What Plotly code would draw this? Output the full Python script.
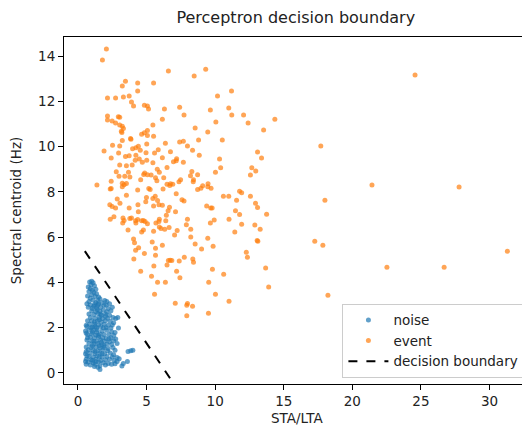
import plotly.graph_objects as go

# (STA/LTA, spectral centroid)
noise_pts = [
    (0.85, 4.02), (1.0, 4.05), (1.1, 3.98), (0.95, 3.9), (0.75, 3.8), (1.2, 3.85), (0.9, 3.72),
    (1.05, 3.65), (1.3, 3.7), (0.8, 3.6), (1.15, 3.55), (1.0, 3.45), (1.35, 3.5), (0.7, 3.4),
    (1.25, 3.38), (0.9, 3.3), (1.5, 3.35), (1.1, 3.22), (1.45, 3.2), (0.8, 3.15), (1.6, 3.28),
    (1.3, 3.1), (0.65, 3.05), (0.9, 3.0), (1.2, 3.02), (1.5, 3.05), (1.75, 3.1), (1.9, 2.98),
    (2.05, 3.0), (0.75, 2.9), (1.05, 2.85), (1.35, 2.88), (1.65, 2.9), (2.2, 2.85), (1.0, 2.75),
    (1.3, 2.7), (1.6, 2.72), (1.85, 2.78), (2.1, 2.7), (2.4, 2.75), (0.8, 2.6), (1.15, 2.58),
    (1.45, 2.62), (1.7, 2.55), (2.0, 2.6), (2.3, 2.55), (0.9, 2.45), (1.25, 2.42), (1.55, 2.45),
    (1.8, 2.4), (2.15, 2.42), (2.55, 2.45), (2.75, 2.4), (0.7, 2.3), (1.0, 2.3), (1.4, 2.28),
    (1.7, 2.25), (2.0, 2.3), (2.35, 2.28), (2.6, 2.22), (0.85, 2.15), (1.2, 2.15), (1.5, 2.12),
    (1.9, 2.15), (2.2, 2.1), (2.5, 2.12), (0.65, 2.05), (1.05, 2.02), (1.35, 2.0), (1.65, 2.05),
    (2.05, 2.0), (2.4, 1.98), (2.95, 1.98), (0.55, 1.85), (0.6, 1.75), (0.8, 1.9), (1.1, 1.88),
    (1.4, 1.9), (1.75, 1.85), (2.1, 1.88), (2.45, 1.82), (2.7, 1.78), (0.7, 1.7), (1.0, 1.72),
    (1.3, 1.68), (1.6, 1.72), (1.9, 1.7), (2.25, 1.7), (2.6, 1.65), (0.9, 1.58), (1.2, 1.55),
    (1.5, 1.58), (1.8, 1.55), (2.05, 1.52), (2.4, 1.55), (2.75, 1.5), (0.65, 1.45), (1.0, 1.42),
    (1.35, 1.4), (1.65, 1.45), (1.95, 1.4), (2.3, 1.38), (2.6, 1.42), (0.8, 1.3), (1.15, 1.28),
    (1.45, 1.3), (1.75, 1.25), (2.1, 1.28), (2.45, 1.25), (2.85, 1.3), (0.6, 1.15), (0.95, 1.12),
    (1.3, 1.15), (1.6, 1.1), (1.9, 1.12), (2.2, 1.08), (2.55, 1.12), (0.75, 1.02), (1.1, 1.0),
    (1.45, 0.98), (1.8, 1.02), (2.15, 0.98), (2.7, 1.0), (0.55, 0.85), (0.65, 0.75), (0.9, 0.88),
    (1.25, 0.85), (1.6, 0.88), (1.95, 0.85), (2.35, 0.88), (0.8, 0.72), (1.1, 0.7), (1.4, 0.75),
    (1.75, 0.7), (2.1, 0.72), (2.5, 0.7), (2.85, 0.68), (0.6, 0.6), (0.95, 0.58), (1.3, 0.6),
    (1.65, 0.55), (2.0, 0.58), (2.3, 0.6), (2.65, 0.55), (3.0, 0.62), (0.75, 0.48), (1.1, 0.45),
    (1.5, 0.48), (1.85, 0.45), (2.2, 0.42), (2.7, 0.4), (0.6, 0.38), (0.9, 0.35), (1.25, 0.38),
    (1.6, 0.32), (2.0, 0.35), (2.45, 0.38), (1.45, 0.25), (1.6, 0.15), (1.2, 0.28), (3.2, 0.3),
    (3.3, 0.42), (3.6, 0.5), (3.65, 0.95), (3.85, 0.98), (4.0, 1.0), (2.85, 0.5), (2.6, 0.8),
    (2.9, 2.45), (2.5, 2.9), (2.3, 3.05), (1.95, 3.2), (2.1, 3.15), (1.15, 2.95), (1.4, 2.8),
    (1.55, 2.35), (1.25, 2.05), (1.05, 1.8), (1.5, 1.65), (1.15, 1.4), (1.55, 1.2), (1.25, 0.95),
    (1.55, 0.7), (1.3, 0.5), (1.05, 1.2), (1.85, 2.0), (1.7, 1.35), (1.35, 1.8), (1.65, 2.6),
    (1.45, 3.0), (1.2, 2.25), (0.95, 2.0), (1.75, 0.85), (2.25, 1.5), (2.0, 2.5), (1.9, 1.2),
    (1.05, 0.55), (0.7, 1.55), (0.6, 0.95), (0.55, 0.5), (0.6, 2.1),
]

event_pts = [
    (2.07, 14.31), (1.78, 13.82), (6.59, 13.34), (9.31, 13.42), (8.47, 13.12), (24.57, 13.16),
    (3.46, 12.89), (3.23, 12.67), (4.35, 12.81), (5.51, 12.81), (4.35, 12.45), (11.19, 12.45),
    (2.15, 12.14), (2.74, 12.14), (3.31, 12.19), (3.73, 12.23), (10.17, 12.23), (3.9, 11.97),
    (4.05, 11.79), (4.84, 11.83), (5.06, 11.79), (5.14, 11.66), (7.41, 11.74), (6.3, 11.66),
    (9.65, 11.61), (10.99, 11.7), (11.21, 11.39), (7.73, 11.39), (12.07, 11.39), (2.15, 11.35),
    (2.94, 11.32), (3.04, 11.29), (2.15, 11.17), (6.15, 11.21), (2.49, 11.13), (2.74, 11.04),
    (3.04, 10.95), (3.23, 10.9), (3.31, 10.8), (5.46, 10.95), (10.05, 11.08), (12.4, 11.04),
    (14.35, 11.21), (3.16, 10.68), (3.2, 10.62), (5.06, 10.71), (8.54, 10.82), (13.53, 10.73),
    (4.64, 10.54), (4.84, 10.61), (5.06, 10.49), (5.51, 10.46), (9.46, 10.64), (3.83, 10.36),
    (3.86, 10.32), (3.23, 10.27), (2.52, 10.06), (3.04, 10.02), (4.4, 10.01), (6.37, 10.15),
    (7.41, 10.2), (7.68, 10.23), (8.79, 10.29), (10.52, 10.29), (7.98, 10.02), (17.7, 10.02),
    (1.9, 9.8), (2.96, 9.71), (3.98, 9.9), (4.22, 9.95), (4.54, 9.84), (5.01, 10.11),
    (5.85, 9.86), (6.74, 9.77), (8.35, 9.84), (5.58, 9.71), (13.09, 9.76), (2.42, 9.49),
    (3.46, 9.56), (3.73, 9.59), (4.22, 9.62), (4.96, 9.73), (4.17, 9.4), (4.47, 9.45),
    (6.15, 9.5), (7.19, 9.46), (7.16, 9.37), (7.68, 9.31), (8.84, 9.62), (10.32, 9.45),
    (13.38, 9.49), (3.04, 9.18), (3.53, 9.15), (3.95, 9.18), (4.69, 9.31), (5.01, 9.39),
    (5.46, 9.28), (5.78, 9.0), (5.93, 8.86), (6.49, 9.08), (6.96, 9.33), (8.3, 8.9),
    (10.02, 8.86), (10.4, 9.06), (12.67, 9.06), (12.96, 8.92), (12.57, 8.74), (2.79, 8.89),
    (3.68, 8.86), (4.79, 8.77), (4.86, 8.83), (5.06, 8.75), (5.33, 8.74), (5.65, 8.62),
    (6.25, 8.62), (3.78, 8.66), (2.99, 8.69), (3.41, 8.69), (4.57, 8.53), (5.75, 8.49),
    (7.48, 8.53), (8.72, 8.75), (8.42, 8.53), (8.2, 8.71), (8.4, 8.44), (9.48, 8.36),
    (9.09, 8.27), (9.7, 8.16), (9.46, 8.22), (2.42, 8.47), (2.35, 8.13), (1.38, 8.3),
    (2.42, 8.15), (3.23, 8.22), (3.53, 8.37), (3.23, 8.38), (3.36, 8.31), (5.16, 8.15),
    (5.26, 8.1), (6.2, 8.13), (6.49, 8.33), (6.69, 8.28), (6.91, 8.33), (7.36, 8.44),
    (7.16, 7.91), (6.74, 8.36), (4.35, 8.08), (8.72, 8.1), (8.96, 8.16), (11.78, 8.03),
    (11.93, 7.96), (10.99, 7.81), (10.6, 7.81), (12.57, 7.81), (21.43, 8.3), (27.78, 8.21),
    (18.0, 7.63), (3.53, 7.85), (2.86, 7.68), (4.99, 7.75), (5.63, 7.8), (5.46, 7.71),
    (5.8, 7.62), (7.58, 7.65), (7.73, 7.6), (11.56, 7.63), (2.32, 7.43), (2.49, 7.35),
    (2.74, 7.29), (3.06, 7.49), (4.37, 7.43), (4.94, 7.56), (5.51, 7.37), (5.9, 7.43),
    (6.15, 7.41), (6.67, 7.32), (6.57, 7.16), (7.11, 7.12), (9.38, 7.37), (9.68, 7.28),
    (9.78, 7.28), (11.48, 7.16), (11.78, 7.0), (12.94, 7.49), (13.09, 7.31), (13.75, 7.01),
    (3.73, 7.29), (4.4, 7.12), (2.35, 6.79), (2.62, 6.9), (3.28, 6.84), (3.36, 6.73),
    (3.26, 6.62), (3.78, 6.82), (3.9, 6.84), (4.2, 6.72), (4.35, 6.78), (4.22, 6.62),
    (4.64, 6.72), (4.77, 6.73), (4.89, 6.69), (5.06, 6.59), (5.68, 6.62), (5.93, 6.79),
    (5.9, 6.69), (6.44, 6.96), (6.4, 6.72), (7.98, 6.79), (7.9, 6.54), (7.23, 6.29),
    (7.04, 6.09), (8.22, 6.35), (9.65, 6.62), (9.93, 6.75), (11.01, 6.79), (11.93, 6.57),
    (12.89, 6.53), (13.28, 6.35), (11.43, 6.23), (3.65, 6.31), (4.64, 6.22), (4.77, 6.31),
    (5.51, 6.26), (6.05, 6.38), (6.32, 6.35), (6.64, 6.42), (5.93, 6.45), (8.22, 6.0),
    (9.46, 5.95), (4.05, 5.92), (4.12, 5.75), (5.41, 5.78), (13.06, 5.85), (13.11, 5.82),
    (17.26, 5.82), (17.85, 5.64), (4.2, 5.42), (4.42, 5.53), (5.65, 5.51), (6.15, 5.64),
    (8.54, 5.69), (9.01, 5.47), (9.85, 5.6), (12.27, 5.33), (12.35, 5.11), (4.84, 5.28),
    (4.07, 5.03), (5.65, 5.2), (7.75, 5.11), (8.37, 5.03), (8.42, 4.89), (6.59, 4.97),
    (6.72, 4.98), (6.84, 4.97), (7.38, 4.94), (6.49, 4.77), (5.53, 4.72), (4.57, 4.49),
    (7.19, 4.49), (5.36, 4.27), (7.43, 4.2), (9.8, 4.58), (10.62, 4.36), (13.68, 4.63),
    (31.3, 5.38), (22.52, 4.67), (26.69, 4.67), (5.8, 4.01), (6.37, 4.01), (9.53, 4.01),
    (13.9, 3.79), (5.58, 3.48), (10.02, 3.48), (18.22, 3.43), (11.01, 3.17), (7.09, 3.08),
    (7.98, 3.07), (7.93, 2.99), (8.35, 2.95), (7.93, 2.52), (9.51, 2.64),
]

# perceptron boundary, two end points
boundary_x = [0.5, 7.2]
boundary_y = [5.38, -0.68]

noise_x, noise_y = zip(*noise_pts)
event_x, event_y = zip(*event_pts)

fig = go.Figure()
fig.add_trace(go.Scatter(x=noise_x, y=noise_y, mode="markers", name="noise",
                         marker=dict(color="#1f77b4", size=5, opacity=0.7, line=dict(width=0))))
fig.add_trace(go.Scatter(x=event_x, y=event_y, mode="markers", name="event",
                         marker=dict(color="#ff7f0e", size=5, opacity=0.7, line=dict(width=0))))
fig.add_trace(go.Scatter(x=boundary_x, y=boundary_y, mode="lines", name="decision boundary",
                         line=dict(color="black", width=2, dash="dash")))

axis_style = dict(showline=True, linecolor="black", linewidth=1.1, mirror=True,
                  ticks="outside", ticklen=5, tickwidth=1.1, tickcolor="black",
                  showgrid=False, zeroline=False, tickfont=dict(size=13.5, color="#222"),
                  title_font=dict(size=13.5, color="#222"))

fig.update_xaxes(range=[-1.02, 32.95], tickvals=[0, 5, 10, 15, 20, 25, 30], **axis_style)
fig.update_yaxes(range=[-0.49, 14.84], tickvals=[0, 2, 4, 6, 8, 10, 12, 14],
                 title=dict(text="Spectral centroid (Hz)", standoff=13), **axis_style)

# x label as annotation so it sits where matplotlib put it
fig.add_annotation(text="STA/LTA", xref="paper", yref="paper", x=0.5, y=-0.098,
                   xanchor="center", yanchor="middle", showarrow=False,
                   font=dict(size=13.5, color="#222"))

fig.update_layout(
    width=530, height=426,
    margin=dict(l=56, r=8, t=29, b=50),
    paper_bgcolor="white", plot_bgcolor="white",
    font=dict(family="DejaVu Sans", color="#222"),
    title=dict(text="Perceptron decision boundary", x=0.543, xanchor="center",
               y=0.978, yanchor="middle", font=dict(size=16)),
    showlegend=True,
    legend=dict(x=0.988, y=0.018, xanchor="right", yanchor="bottom",
                bgcolor="rgba(255,255,255,0.8)", bordercolor="#cccccc", borderwidth=1,
                font=dict(size=13.5, color="#222"), itemwidth=40,
                tracegroupgap=2),
)

fig.write_html("out.html")
